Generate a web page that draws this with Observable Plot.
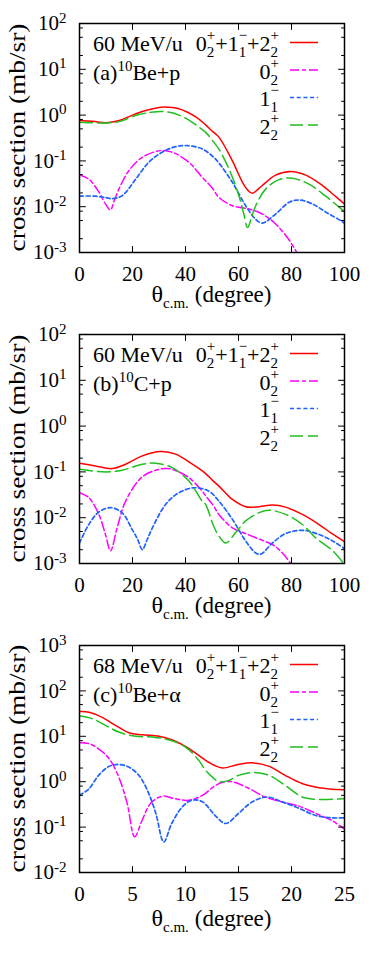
<!DOCTYPE html>
<html><head><meta charset="utf-8">
<script src="https://cdn.jsdelivr.net/npm/d3@7"></script>
<script src="https://cdn.jsdelivr.net/npm/@observablehq/plot@0.6"></script>
<style>
body{margin:0;background:#fff;}
#chart{width:382px;}
#chart svg{display:block;}
</style></head><body><div id="chart"></div>
<script>
// ---------- data: [theta (deg), cross section (mb/sr)] ----------
// (a) 10Be+p, 60 MeV/u
const a_sum = [[0,0.76],[5,0.73],[10,0.68],[15,0.76],[20,1.0],[25,1.26],[30,1.47],[32,1.5],[37.5,1.37],[44,0.9],[47.6,0.61],[50,0.45],[52.6,0.33],[57.7,0.10],[61.5,0.034],[63.5,0.023],[65.2,0.0196],[67,0.023],[69,0.029],[74,0.049],[79.7,0.059],[85.4,0.049],[91.7,0.029],[96,0.018],[100,0.0115]];
const a_0p2 = [[0,0.049],[3.5,0.04],[7.3,0.021],[10,0.011],[11.7,0.0085],[13,0.013],[14.9,0.0245],[18.6,0.061],[23.7,0.12],[30.6,0.168],[35,0.155],[41.3,0.093],[46.3,0.044],[50,0.026],[52.6,0.016],[57.7,0.0105],[64,0.0089],[69,0.0069],[74,0.0042],[78.5,0.0021],[81.6,0.0011],[83,0.0008]];
const a_1m1 = [[0,0.017],[6,0.017],[10,0.0158],[12.3,0.015],[16.1,0.0174],[21.2,0.04],[26.2,0.094],[31.2,0.155],[36.3,0.205],[40.7,0.216],[46.3,0.183],[50.6,0.12],[52.6,0.09],[57.7,0.034],[62.7,0.0105],[66.5,0.0053],[69,0.0044],[74,0.0069],[79.1,0.0125],[82.9,0.014],[87.9,0.0115],[93,0.0076],[99.2,0.0047],[100,0.0043]];
const a_2p2 = [[0,0.70],[5,0.68],[10,0.67],[15,0.72],[22.4,1.03],[27,1.15],[30.6,1.2],[34,1.15],[37.5,1.0],[41,0.8],[45,0.55],[47.6,0.42],[50.6,0.26],[52.6,0.18],[56.4,0.067],[60.2,0.017],[62,0.007],[63.4,0.0035],[65,0.006],[66.5,0.0105],[70.3,0.0245],[75.3,0.039],[80.3,0.042],[86.6,0.031],[92.9,0.017],[100,0.0078]];
// (b) 10C+p, 60 MeV/u
const b_sum = [[0,0.155],[6,0.135],[12.3,0.118],[17.4,0.147],[23.7,0.224],[30.6,0.278],[36.3,0.244],[42.6,0.147],[47.6,0.092],[50.1,0.066],[52.6,0.049],[57.7,0.025],[62.7,0.0174],[67.8,0.0174],[72.8,0.019],[77.8,0.017],[84.1,0.0118],[90.4,0.0071],[95,0.0046],[100,0.003]];
const b_0p2 = [[0,0.035],[3.5,0.0275],[7.3,0.0118],[9.8,0.0043],[11.7,0.0019],[14.2,0.006],[17.4,0.023],[23.7,0.078],[30,0.114],[33,0.118],[35,0.114],[41.3,0.075],[46.3,0.038],[47.6,0.03],[50.6,0.018],[52.6,0.0118],[57.7,0.006],[62.7,0.0045],[67.8,0.0034],[72.8,0.0026],[76.6,0.0017],[79.7,0.001],[81,0.0008]];
const b_1m1 = [[0,0.0028],[3.5,0.0071],[7.3,0.0133],[11.7,0.0166],[16.1,0.0128],[19.9,0.0055],[22,0.0033],[23.7,0.002],[25.5,0.0033],[27.5,0.006],[32.5,0.0195],[37.5,0.035],[43.2,0.045],[48.8,0.038],[52.6,0.023],[57.7,0.0092],[62.7,0.0031],[66.5,0.0017],[68.4,0.0016],[72.8,0.0028],[77.8,0.0045],[84.1,0.0053],[90.4,0.0043],[95.5,0.0031],[100,0.0021]];
const b_2p2 = [[0,0.114],[9.8,0.1],[16.1,0.109],[23.7,0.147],[28.7,0.155],[35,0.124],[41.3,0.063],[46.3,0.023],[47.6,0.0195],[50.6,0.0066],[52.6,0.004],[55.2,0.0028],[58.9,0.0047],[62.7,0.0085],[67.8,0.0129],[71.5,0.0145],[77.8,0.0118],[84.1,0.0071],[89.2,0.0036],[95.5,0.0019],[100,0.00095]];
// (c) 10Be+alpha, 68 MeV/u
const c_sum = [[0,35],[0.9,34],[2.1,26.5],[3.4,17.4],[4.65,12],[5.9,10.8],[7.5,10],[8.7,8.4],[10,6.0],[11.25,3.8],[11.9,2.95],[12.7,2.3],[13.5,2.0],[15,2.4],[16.3,2.6],[17.9,2.18],[19.4,1.38],[21,0.91],[22.6,0.74],[25,0.66]];
const c_0p2 = [[0,7.2],[0.9,6.9],[1.8,5.3],[2.8,3.2],[3.7,1.27],[4.5,0.33],[5.2,0.061],[5.9,0.14],[6.7,0.33],[7.8,0.48],[9.05,0.42],[10.3,0.39],[11.6,0.5],[12.7,0.79],[13.5,0.97],[14.4,1.0],[16,0.71],[17.5,0.46],[19.1,0.36],[20.7,0.29],[22.3,0.2],[23.8,0.14],[25,0.09]];
const c_1m1 = [[0,0.5],[0.9,0.7],[1.8,1.38],[2.8,2.18],[3.7,2.4],[4.65,2.1],[5.6,1.38],[6.4,0.65],[7.2,0.2],[7.95,0.047],[8.7,0.12],[9.7,0.28],[10.6,0.39],[11.6,0.36],[12.8,0.18],[13.8,0.12],[15,0.2],[16.3,0.36],[17.7,0.46],[19.1,0.36],[20.7,0.26],[22.3,0.18],[23.8,0.16],[25,0.16]];
const c_2p2 = [[0,27.9],[1.2,24.5],[2.45,17.4],[3.7,12.4],[5.3,10],[6.9,9.6],[8.4,8.4],[10,5.8],[11.25,2.95],[11.9,1.78],[12.7,1.17],[13.1,1.0],[14.1,1.07],[15,1.38],[16.4,1.6],[17.9,1.38],[19.4,0.83],[21,0.46],[22.3,0.41],[25,0.42]];

// ticks and labels
const xTicksP = [0, 20, 40, 60, 80, 100];
const xTicksA = [0, 5, 10, 15, 20, 25];
const yTicksP = [1e-3, 1e-2, 1e-1, 1, 10, 100];
const yTicksA = [1e-2, 1e-1, 1, 10, 100, 1000];
const minorMult = [2, 5, 8];
const seriesKeys = ["sum", "0p2", "1m1", "2p2"];
const energyLabels = ["60 MeV/u", "60 MeV/u", "68 MeV/u"];
const panelTags = ["(a)", "(b)", "(c)"];
const reactionLabels = [["10", "Be+p"], ["10", "C+p"], ["10", "Be+α"]];
const yTitle = "cross section (mb/sr)";

// ---------- styles ----------
const FONT = "'Liberation Serif','Times New Roman',serif";
const COLOR = {sum: "#ff0000", "0p2": "#ff00ff", "1m1": "#1f62ff", "2p2": "#1fbf1f"};
const DASH = {sum: null, "0p2": "9,3,4,3", "1m1": "4,2.7", "2p2": "13,5"};
const WIDTH = {sum: 1.5, "0p2": 1.5, "1m1": 1.7, "2p2": 1.5};
const MAIN = 22, SMALL = 15;

const tickShape = {draw(ctx, l) { ctx.moveTo(0, 0); ctx.lineTo(0, -l); }};

function minorTicks(major) {
  const out = [];
  for (let i = 0; i < major.length - 1; i++) for (const m of minorMult) out.push(major[i] * m);
  return out;
}

function richText(g, x, baseline, parts, anchor, size = MAIN) {
  const grp = g.append("g").attr("font-family", FONT).attr("fill", "#000").attr("text-anchor", "start");
  let cx = 0;
  for (const p of parts) {
    cx += (p.gap || 0);
    if (p.t != null) {
      const el = grp.append("text").attr("x", cx).attr("y", 0).attr("font-size", p.size || size).text(p.t);
      cx += el.node().getComputedTextLength();
    } else {
      let w = 0;
      if (p.sup != null) {
        const el = grp.append("text").attr("x", cx).attr("y", p.supY ?? -11).attr("font-size", SMALL).text(p.sup);
        w = Math.max(w, el.node().getComputedTextLength());
      }
      if (p.sub != null) {
        const el = grp.append("text").attr("x", cx).attr("y", p.subY ?? 6).attr("font-size", SMALL).text(p.sub);
        w = Math.max(w, el.node().getComputedTextLength());
      }
      cx += w;
    }
  }
  const x0 = anchor === "end" ? x - cx : anchor === "middle" ? x - cx / 2 : x;
  grp.attr("transform", `translate(${x0},${baseline})`);
  return grp;
}

function panel(idx, data, xTicks, yTicks, height, marginBottom, titleOffset) {
  const xMax = xTicks[xTicks.length - 1];
  const yMinor = minorTicks(yTicks);
  const lines = seriesKeys.map(k => Plot.line(data[k], {
    x: d => d[0], y: d => d[1], stroke: COLOR[k], strokeWidth: WIDTH[k],
    strokeDasharray: DASH[k], curve: "catmull-rom", clip: true
  }));
  const tickOpts = {anchor: "start", shape: tickShape, stroke: "#000", strokeWidth: 1};
  const plot = Plot.plot({
    width: 382, height, marginLeft: 79, marginRight: 38, marginTop: 23, marginBottom,
    style: {fontFamily: FONT, fontSize: "21px", color: "#000", background: "#fff"},
    x: {domain: [0, xMax], label: null},
    y: {type: "log", domain: [yTicks[0], yTicks[yTicks.length - 1]], label: null},
    marks: [
      ...lines,
      Plot.vector(yTicks, {y: d => d, frameAnchor: "left", rotate: 90, length: 6, ...tickOpts}),
      Plot.vector(yTicks, {y: d => d, frameAnchor: "right", rotate: -90, length: 6, ...tickOpts}),
      Plot.vector(yMinor, {y: d => d, frameAnchor: "left", rotate: 90, length: 3, ...tickOpts}),
      Plot.vector(yMinor, {y: d => d, frameAnchor: "right", rotate: -90, length: 3, ...tickOpts}),
      Plot.vector(xTicks, {x: d => d, frameAnchor: "bottom", rotate: 0, length: 6, ...tickOpts}),
      Plot.vector(xTicks, {x: d => d, frameAnchor: "top", rotate: 180, length: 6, ...tickOpts}),
      Plot.axisX(xTicks, {tickSize: 0, tickPadding: 14, label: null, fontSize: 21}),
      Plot.axisY(yTicks, {tickSize: 0, tickPadding: 13, label: null, fontSize: 21,
        tickFormat: d => "10^" + Math.round(Math.log10(d))}),
      Plot.frame({stroke: "#000", strokeWidth: 1.5})
    ]
  });
  document.getElementById("chart").appendChild(plot);
  const svg = d3.select(plot);
  // superscript exponents on y tick labels
  svg.selectAll('g[aria-label="y-axis tick label"] text').each(function () {
    const [b, e] = this.textContent.split("^");
    const t = d3.select(this);
    t.text(null);
    t.append("tspan").text(b);
    t.append("tspan").attr("dy", "-0.5em").attr("font-size", "0.72em").text(e);
  });
  // axis titles
  const frameTop = 23, frameBottom = height - marginBottom;
  svg.append("text").attr("font-family", FONT).attr("font-size", 24).attr("fill", "#000")
    .attr("text-anchor", "middle")
    .attr("transform", `translate(25,${(frameTop + frameBottom) / 2}) rotate(-90)`)
    .attr("textLength", 228).attr("lengthAdjust", "spacingAndGlyphs")
    .text(yTitle);
  richText(svg, (79 + 344) / 2, frameBottom + titleOffset,
    [{t: "θ", size: 24}, {sub: "c.m.", subY: 6}, {t: "(degree)", gap: 6}], "middle", 23);
  // legend block
  const rowY = [42.5, 70, 97.5, 125];
  richText(svg, 93, 51, [{t: energyLabels[idx]}], "start");
  richText(svg, 93, 80, [{t: panelTags[idx]}, {sup: reactionLabels[idx][0], supY: -9}, {t: reactionLabels[idx][1]}], "start");
  const labels = [
    [{t: "0"}, {sup: "+", sub: "2"}, {t: "+1"}, {sup: "−", sub: "1"}, {t: "+2"}, {sup: "+", sub: "2"}],
    [{t: "0"}, {sup: "+", sub: "2"}],
    [{t: "1"}, {sup: "−", sub: "1"}],
    [{t: "2"}, {sup: "+", sub: "2"}]
  ];
  seriesKeys.forEach((k, i) => {
    richText(svg, 279, rowY[i] + 8.5, labels[i], "end");
    svg.append("line").attr("x1", 290).attr("x2", 318).attr("y1", rowY[i]).attr("y2", rowY[i])
      .attr("stroke", COLOR[k]).attr("stroke-width", WIDTH[k])
      .attr("stroke-dasharray", DASH[k]);
  });
}

panel(0, {sum: a_sum, "0p2": a_0p2, "1m1": a_1m1, "2p2": a_2p2}, xTicksP, yTicksP, 311, 59, 50);
panel(1, {sum: b_sum, "0p2": b_0p2, "1m1": b_1m1, "2p2": b_2p2}, xTicksP, yTicksP, 311, 59, 50);
panel(2, {sum: c_sum, "0p2": c_0p2, "1m1": c_1m1, "2p2": c_2p2}, xTicksA, yTicksA, 340, 90, 54);
</script></body></html>
